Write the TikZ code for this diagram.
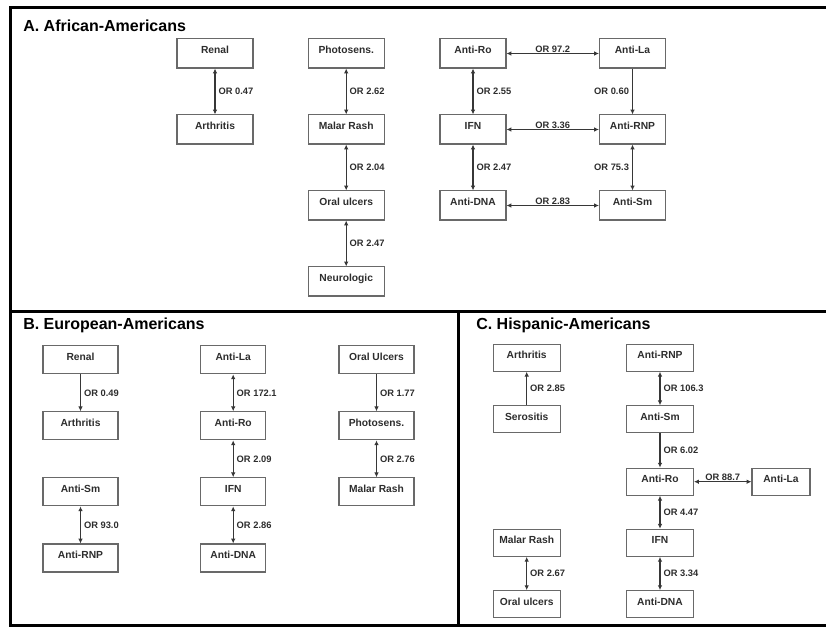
\documentclass[tikz,border=0pt]{standalone}
\usepackage{fontspec}
\setmainfont{Liberation Sans}
\usepackage{tikz}
\usetikzlibrary{arrows.meta}
\usepackage{xcolor}
\definecolor{boxgray}{RGB}{105,105,105}
\definecolor{txtgray}{RGB}{45,45,45}
\definecolor{arrgray}{RGB}{55,55,55}

\tikzset{
  >={Latex[length=3.6pt,width=3.4pt]},
  box/.style={draw=boxgray, line width=0.8pt, inner sep=0pt, text height=10.9pt,
    text=txtgray, font=\fontsize{7.7}{9}\selectfont\bfseries},
  boxA/.style={box, minimum width=#1, text depth=10.9pt},
  boxB/.style={box, minimum width=#1, text depth=10.1pt},
  boxC/.style={box, minimum width=#1, text depth=9.4pt},
  link/.style={draw=arrgray, line width=0.9pt},
  lbl/.style={inner sep=2.2pt, text=txtgray, font=\fontsize{7}{8}\selectfont\bfseries},
  lblr/.style={lbl, anchor=west},
  lbll/.style={lbl, anchor=east},
  lblt/.style={lbl, anchor=south, inner sep=0.4pt},
  ttl/.style={anchor=base west, inner sep=0pt, font=\fontsize{12}{14}\selectfont\bfseries}
}

\begin{document}
\begin{tikzpicture}[x=0.75pt,y=0.75pt,yscale=-1,xscale=1]
\useasboundingbox (0,0) rectangle (826,627);

%Frame and dividers
\draw[line width=2.25pt] (10.5,8) rectangle (834,625.5);
\draw[line width=2.25pt] (10.5,312) -- (834,312);
\draw[line width=2.25pt] (458.5,312) -- (458.5,625.5);

%Titles
\node[ttl] (ttlA) at (23,31.7) {A. African-Americans};
\node[ttl] (ttlB) at (23,330) {B. European-Americans};
\node[ttl] (ttlC) at (476,330) {C. Hispanic-Americans};

%Panel A: boxes
\node[boxA=57pt] (renA) at (215,53.5) {Renal};
\node[boxA=57pt] (artA) at (215,129.5) {Arthritis};
\node[boxA=57pt] (phoA) at (346.2,53.5) {Photosens.};
\node[boxA=57pt] (malA) at (346.2,129.5) {Malar Rash};
\node[boxA=57pt] (oraA) at (346.2,205.5) {Oral ulcers};
\node[boxA=57pt] (neuA) at (346.2,281.5) {Neurologic};
\node[boxA=49.5pt] (roA) at (473,53.5) {Anti-Ro};
\node[boxA=49.5pt] (laA) at (632.5,53.5) {Anti-La};
\node[boxA=49.5pt] (ifnA) at (473,129.5) {IFN};
\node[boxA=49.5pt] (rnpA) at (632.5,129.5) {Anti-RNP};
\node[boxA=49.5pt] (dnaA) at (473,205.5) {Anti-DNA};
\node[boxA=49.5pt] (smA) at (632.5,205.5) {Anti-Sm};

%Panel A: links
\draw[link,<->] (renA) -- node[lblr] {OR 0.47} (artA);
\draw[link,<->] (phoA) -- node[lblr] {OR 2.62} (malA);
\draw[link,<->] (malA) -- node[lblr] {OR 2.04} (oraA);
\draw[link,<->] (oraA) -- node[lblr] {OR 2.47} (neuA);
\draw[link,<->] (roA) -- node[lblt] {OR 97.2} (laA);
\draw[link,<->] (roA) -- node[lblr] {OR 2.55} (ifnA);
\draw[link,->] (laA) -- node[lbll] {OR 0.60} (rnpA);
\draw[link,<->] (ifnA) -- node[lblt] {OR 3.36} (rnpA);
\draw[link,<->] (ifnA) -- node[lblr] {OR 2.47} (dnaA);
\draw[link,<->] (rnpA) -- node[lbll] {OR 75.3} (smA);
\draw[link,<->] (dnaA) -- node[lblt] {OR 2.83} (smA);

%Panel B: boxes
\node[boxB=56.25pt] (renB) at (80.5,359.8) {Renal};
\node[boxB=56.25pt] (artB) at (80.5,425.8) {Arthritis};
\node[boxB=56.25pt] (smB) at (80.5,491.8) {Anti-Sm};
\node[boxB=56.25pt] (rnpB) at (80.5,558) {Anti-RNP};
\node[boxB=48.75pt] (laB) at (233.2,359.8) {Anti-La};
\node[boxB=48.75pt] (roB) at (233.2,425.8) {Anti-Ro};
\node[boxB=48.75pt] (ifnB) at (233.2,491.8) {IFN};
\node[boxB=48.75pt] (dnaB) at (233.2,558) {Anti-DNA};
\node[boxB=56.25pt] (oraB) at (376.5,359.8) {Oral Ulcers};
\node[boxB=56.25pt] (phoB) at (376.5,425.8) {Photosens.};
\node[boxB=56.25pt] (malB) at (376.5,491.8) {Malar Rash};

%Panel B: links
\draw[link,->] (renB) -- node[lblr] {OR 0.49} (artB);
\draw[link,<->] (smB) -- node[lblr] {OR 93.0} (rnpB);
\draw[link,<->] (laB) -- node[lblr] {OR 172.1} (roB);
\draw[link,<->] (roB) -- node[lblr] {OR 2.09} (ifnB);
\draw[link,<->] (ifnB) -- node[lblr] {OR 2.86} (dnaB);
\draw[link,->] (oraB) -- node[lblr] {OR 1.77} (phoB);
\draw[link,<->] (phoB) -- node[lblr] {OR 2.76} (malB);

%Panel C: boxes
\node[boxC=50.25pt] (artC) at (526.7,357.7) {Arthritis};
\node[boxC=50.25pt] (serC) at (526.7,419.3) {Serositis};
\node[boxC=50.25pt] (malC) at (526.7,542.8) {Malar Rash};
\node[boxC=50.25pt] (oraC) at (526.7,604.2) {Oral ulcers};
\node[boxC=50.25pt] (rnpC) at (660,357.7) {Anti-RNP};
\node[boxC=50.25pt] (smC) at (660,419.3) {Anti-Sm};
\node[boxC=50.25pt] (roC) at (660,481.7) {Anti-Ro};
\node[boxC=50.25pt] (ifnC) at (660,542.8) {IFN};
\node[boxC=50.25pt] (dnaC) at (660,604.2) {Anti-DNA};
\node[boxC=43.5pt] (laC) at (781,481.7) {Anti-La};

%Panel C: links
\draw[link,->] (serC) -- node[lblr] {OR 2.85} (artC);
\draw[link,<->] (malC) -- node[lblr] {OR 2.67} (oraC);
\draw[link,<->] (rnpC) -- node[lblr] {OR 106.3} (smC);
\draw[link,->] (smC) -- node[lblr] {OR 6.02} (roC);
\draw[link,<->] (roC) -- node[lblt] {OR 88.7} (laC);
\draw[link,<->] (roC) -- node[lblr] {OR 4.47} (ifnC);
\draw[link,<->] (ifnC) -- node[lblr] {OR 3.34} (dnaC);

\end{tikzpicture}
\end{document}
